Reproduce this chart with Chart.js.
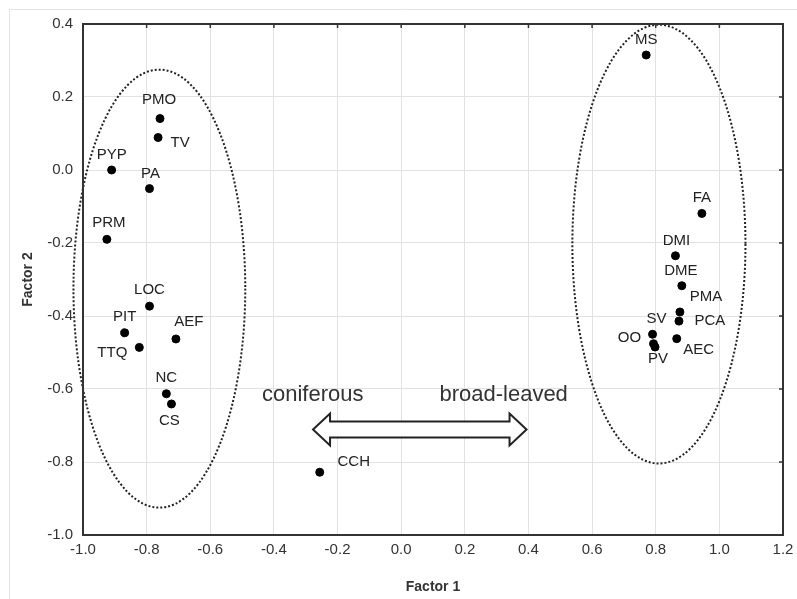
<!DOCTYPE html>
<html>
<head>
<meta charset="utf-8">
<script src="https://cdn.jsdelivr.net/npm/chart.js@4"></script>
<style>
  html, body { margin: 0; padding: 0; background: #fff; }
  #wrap { width: 797px; height: 599px; position: relative; }
</style>
</head>
<body>
<div id="wrap"><canvas id="chart" width="797" height="599"></canvas></div>
<script>
// --- Data ---
const codes   = ['PMO','TV','PYP','PA','PRM','LOC','PIT','TTQ','AEF','NC','CS','CCH',
                 'MS','FA','DMI','DME','PMA','PCA','SV','OO','PV','AEC'];
const factor1 = [-0.758,-0.764,-0.910,-0.791,-0.925,-0.791,-0.869,-0.823,-0.708,-0.738,-0.722,-0.256,
                  0.770, 0.945, 0.862, 0.882, 0.876, 0.873, 0.790, 0.793, 0.798, 0.866];
const factor2 = [ 0.141, 0.089, 0.000,-0.051,-0.190,-0.373,-0.446,-0.486,-0.463,-0.613,-0.641,-0.828,
                  0.315,-0.119,-0.235,-0.317,-0.389,-0.414,-0.450,-0.476,-0.485,-0.462];

const xTicks = [-1.0,-0.8,-0.6,-0.4,-0.2,0.0,0.2,0.4,0.6,0.8,1.0,1.2];
const yTicks = [-1.0,-0.8,-0.6,-0.4,-0.2,0.0,0.2,0.4];

// groups drawn as dotted ellipses: [centre x, centre y, half-width, half-height]
const coniferGroup  = [-0.760,-0.325,0.270,0.600];
const broadGroup    = [ 0.810,-0.203,0.272,0.601];
// double arrow: [from x, to x, y]
const gradientArrow = [-0.277, 0.394,-0.711];
const arrowTexts    = ['coniferous','broad-leaved'];
const arrowTextX    = [-0.278, 0.322];
const arrowTextY    = -0.615;

// label placement around each point (pixels)
const labelDx = [-1, 22, 0, 1, 2, 0, 0,-27, 13, 0,-2, 34,   0, 0, 1,-1, 26, 31, 4,-24, 3, 22];
const labelDy = [-19, 5,-15,-15,-16,-16,-16, 5,-17,-16,17,-10, -15,-16,-15,-15,-15, 0,-15,-6,12, 11];

const points = codes.map((c, i) => ({ x: factor1[i], y: factor2[i] }));
const fmt = v => (Math.abs(v) < 1e-9 ? 0 : v).toFixed(1);

// --- Drawing helpers ---
const decor = {
  id: 'decor',
  beforeDraw(chart) {
    const c = chart.ctx;
    c.save();
    c.fillStyle = '#fff';
    c.fillRect(0, 0, chart.width, chart.height);
    c.strokeStyle = '#e4e4e4'; c.lineWidth = 1;
    c.beginPath();
    c.moveTo(9.5, chart.height); c.lineTo(9.5, 9.5); c.lineTo(chart.width, 9.5);
    c.stroke();
    c.restore();
  },
  beforeDatasetsDraw(chart) {
    const c = chart.ctx, xs = chart.scales.x, ys = chart.scales.y;
    const a = chart.chartArea;
    c.save();

    // ellipses
    c.strokeStyle = '#222'; c.lineWidth = 2; c.setLineDash([2, 2]);
    [coniferGroup, broadGroup].forEach(g => {
      const cx = xs.getPixelForValue(g[0]), cy = ys.getPixelForValue(g[1]);
      const rx = Math.abs(xs.getPixelForValue(g[0] + g[2]) - cx);
      const ry = Math.abs(ys.getPixelForValue(g[1] + g[3]) - cy);
      c.beginPath(); c.ellipse(cx, cy, rx, ry, 0, 0, Math.PI * 2); c.stroke();
    });
    c.setLineDash([]);

    // double arrow
    const x0 = xs.getPixelForValue(gradientArrow[0]);
    const x1 = xs.getPixelForValue(gradientArrow[1]);
    const y  = ys.getPixelForValue(gradientArrow[2]);
    const sh = 8, hh = 16, hl = 17;
    c.beginPath();
    c.moveTo(x0, y);
    c.lineTo(x0 + hl, y - hh); c.lineTo(x0 + hl, y - sh);
    c.lineTo(x1 - hl, y - sh); c.lineTo(x1 - hl, y - hh);
    c.lineTo(x1, y);
    c.lineTo(x1 - hl, y + hh); c.lineTo(x1 - hl, y + sh);
    c.lineTo(x0 + hl, y + sh); c.lineTo(x0 + hl, y + hh);
    c.closePath();
    c.fillStyle = '#fff'; c.fill();
    c.strokeStyle = '#222'; c.lineWidth = 2; c.stroke();

    c.fillStyle = '#333';
    c.font = '22px "Liberation Sans", Arial, sans-serif';
    c.textAlign = 'center'; c.textBaseline = 'middle';
    arrowTexts.forEach((t, i) => {
      c.fillText(t, xs.getPixelForValue(arrowTextX[i]), ys.getPixelForValue(arrowTextY));
    });

    // plot frame + inner ticks on top/right
    c.strokeStyle = '#333'; c.lineWidth = 2;
    c.strokeRect(a.left, a.top, a.right - a.left, a.bottom - a.top);
    c.lineWidth = 1.5;
    c.beginPath();
    xTicks.forEach(v => { const px = xs.getPixelForValue(v); c.moveTo(px, a.top); c.lineTo(px, a.top + 4); });
    yTicks.forEach(v => { const py = ys.getPixelForValue(v); c.moveTo(a.right, py); c.lineTo(a.right - 4, py); });
    c.stroke();
    c.restore();
  },
  afterDatasetsDraw(chart) {
    const c = chart.ctx;
    const meta = chart.getDatasetMeta(0);
    c.save();
    c.fillStyle = '#222';
    c.font = '15px "Liberation Sans", Arial, sans-serif';
    c.textAlign = 'center'; c.textBaseline = 'middle';
    meta.data.forEach((pt, i) => {
      c.fillText(codes[i], pt.x + labelDx[i], pt.y + labelDy[i]);
    });
    c.restore();
  }
};

new Chart(document.getElementById('chart').getContext('2d'), {
  type: 'scatter',
  data: {
    datasets: [{
      data: points,
      backgroundColor: '#000',
      borderColor: '#000',
      pointRadius: 4,
      pointHoverRadius: 4
    }]
  },
  options: {
    responsive: false,
    animation: false,
    layout: { padding: { left: 0, right: 14, top: 24, bottom: 0 } },
    plugins: { legend: { display: false }, tooltip: { enabled: false } },
    scales: {
      x: {
        type: 'linear', min: -1.0, max: 1.2,
        afterBuildTicks: s => { s.ticks = xTicks.map(v => ({ value: v })); },
        afterFit: s => { s.height = 64; s.paddingRight = 0; s.paddingLeft = 0; },
        grid: { color: '#e2e2e2', drawTicks: false },
        border: { display: false },
        ticks: {
          color: '#333', padding: 6,
          font: { size: 15, family: '"Liberation Sans", Arial, sans-serif' },
          callback: v => fmt(v)
        },
        title: {
          display: true, text: 'Factor 1', color: '#333',
          padding: { top: 0, bottom: 3 },
          font: { size: 14, weight: 'bold', family: '"Liberation Sans", Arial, sans-serif' }
        }
      },
      y: {
        type: 'linear', min: -1.0, max: 0.4,
        afterBuildTicks: s => { s.ticks = yTicks.map(v => ({ value: v })); },
        afterFit: s => { s.width = 83; },
        grid: { color: '#e2e2e2', drawTicks: false },
        border: { display: false },
        ticks: {
          color: '#333', padding: 10,
          font: { size: 15, family: '"Liberation Sans", Arial, sans-serif' },
          callback: v => fmt(v)
        },
        title: {
          display: true, text: 'Factor 2', color: '#333',
          padding: { top: 20, bottom: 0 },
          font: { size: 14, weight: 'bold', family: '"Liberation Sans", Arial, sans-serif' }
        }
      }
    }
  },
  plugins: [decor]
});
</script>
</body>
</html>
